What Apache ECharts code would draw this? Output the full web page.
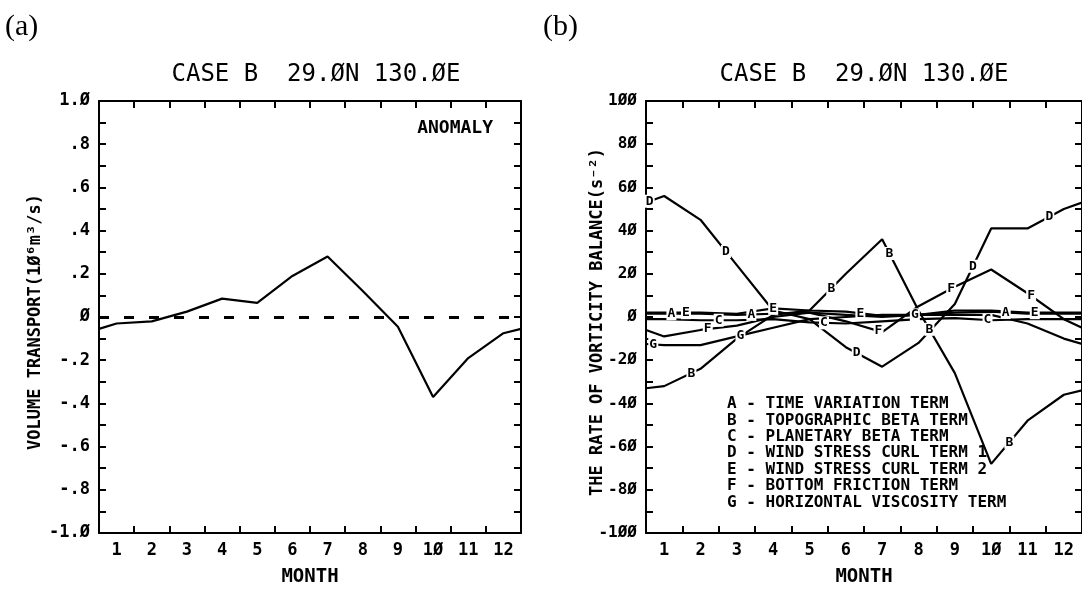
<!DOCTYPE html>
<html>
<head>
<meta charset="utf-8">
<script src="https://cdn.jsdelivr.net/npm/echarts@6/dist/echarts.min.js"></script>
<style>
  html, body { margin: 0; padding: 0; background: #fff; }
  #chart { width: 1082px; height: 592px; }
</style>
</head>
<body>
<div id="chart"></div>
<script>
// months on the axis, and the x of each data point (edges at 0.5 / 12.5)
var monthNames = ['1', '2', '3', '4', '5', '6', '7', '8', '9', '1Ø', '11', '12'];
var monthX = [0.5, 1, 2, 3, 4, 5, 6, 7, 8, 9, 10, 11, 12, 12.5];

// (a) volume transport anomaly, 10^6 m3/s
var transport = [-0.055, -0.03, -0.02, 0.025, 0.085, 0.065, 0.19, 0.28, 0.12, -0.045, -0.37, -0.19, -0.075, -0.055];
var leftTicks = ['-1.Ø', '-.8', '-.6', '-.4', '-.2', 'Ø', '.2', '.4', '.6', '.8', '1.Ø'];

// (b) vorticity balance terms
var termA = [1.5, 1.5, 1.5, 1, 1.5, 2, 1, 0, 1, 2, 2.5, 1.5, 1.5, 1.5];
var termB = [-33, -32, -24, -10, 1, 3, 20, 36, 3, -26, -68, -48, -36, -34];
var termC = [-1, -1, -1.5, -1.5, -1, -2.5, -3, -2, -1, -0.5, -1.5, -1, -1, -1];
var termD = [53, 56, 45, 24, 3, -1, -14, -23, -12, 6, 41, 41, 50, 53];
var termE = [2, 2, 2, 1.5, 4, 3, 2.5, 0.5, 1, 3, 3, 2, 2, 2];
var termF = [-6, -9, -6, -4, 0, 2, -2, -7, 5, 14, 22, 11, -1, -5];
var termG = [-12.5, -13, -13, -9, -5, -1, 0, 1, 1, 1, 1, -3, -10, -12.5];
var rightTicks = ['-1ØØ', '-8Ø', '-6Ø', '-4Ø', '-2Ø', 'Ø', '2Ø', '4Ø', '6Ø', '8Ø', '1ØØ'];
var termNames = [
  'A - TIME VARIATION TERM',
  'B - TOPOGRAPHIC BETA TERM',
  'C - PLANETARY BETA TERM',
  'D - WIND STRESS CURL TERM 1',
  'E - WIND STRESS CURL TERM 2',
  'F - BOTTOM FRICTION TERM',
  'G - HORIZONTAL VISCOSITY TERM'
];

var mono = 'DejaVu Sans Mono';
var chartDom = document.getElementById('chart');
var myChart = echarts.init(chartDom);

// value of a curve at month m (for placing the letter tags on the lines)
function at(vals, m) {
  for (var i = 0; i < monthX.length - 1; i++) {
    if (m >= monthX[i] && m <= monthX[i + 1]) {
      var t = (m - monthX[i]) / (monthX[i + 1] - monthX[i]);
      return vals[i] + t * (vals[i + 1] - vals[i]);
    }
  }
  return vals[vals.length - 1];
}

function pairs(vals) {
  return monthX.map(function (x, i) { return [x, vals[i]]; });
}

function termSeries(letter, vals, spots) {
  return {
    type: 'line',
    name: letter,
    xAxisIndex: 5,
    yAxisIndex: 2,
    data: pairs(vals),
    symbol: 'none',
    lineStyle: { color: '#000', width: 2.2 },
    markPoint: {
      symbol: 'rect',
      symbolSize: [10, 13],
      itemStyle: { color: '#fff' },
      label: {
        show: true,
        position: 'inside',
        formatter: letter,
        color: '#000',
        fontFamily: mono,
        fontWeight: 'bold',
        fontSize: 13
      },
      data: spots.map(function (m) { return { coord: [m, at(vals, m)] }; })
    }
  };
}

function catAxis(gridIndex, pos, labels) {
  return {
    type: 'category',
    gridIndex: gridIndex,
    position: pos,
    data: monthNames,
    boundaryGap: true,
    axisLine: { show: true, onZero: false, lineStyle: { color: '#000', width: 2 } },
    axisTick: { show: true, inside: true, length: 7, lineStyle: { color: '#000', width: 2 } },
    axisLabel: {
      show: labels,
      margin: 9,
      color: '#000',
      fontFamily: mono,
      fontWeight: 'bold',
      fontSize: 17
    },
    splitLine: { show: false },
    name: labels ? 'MONTH' : '',
    nameLocation: 'middle',
    nameGap: 35,
    nameTextStyle: { color: '#000', fontFamily: mono, fontWeight: 'bold', fontSize: 19 }
  };
}

function hiddenX(gridIndex) {
  return { type: 'value', gridIndex: gridIndex, min: 0.5, max: 12.5, show: false };
}

function valAxis(gridIndex, pos, lo, hi, step, ticks, labels, size) {
  return {
    type: 'value',
    gridIndex: gridIndex,
    position: pos,
    min: lo,
    max: hi,
    interval: step,
    axisLine: { show: true, onZero: false, lineStyle: { color: '#000', width: 2 } },
    axisTick: { show: true, inside: true, length: 7, lineStyle: { color: '#000', width: 2 } },
    minorTick: { show: true, splitNumber: 2, length: 7, lineStyle: { color: '#000', width: 2 } },
    axisLabel: {
      show: labels,
      margin: 9,
      color: '#000',
      fontFamily: mono,
      fontWeight: 'bold',
      fontSize: size,
      formatter: function (v) {
        return ticks[Math.round((v - lo) / step)];
      }
    },
    splitLine: { show: false }
  };
}

function plotText(x, y, text, opts) {
  var st = {
    text: text,
    fill: '#000',
    font: opts.font,
    align: opts.align || 'left',
    verticalAlign: 'middle'
  };
  return { type: 'text', x: x, y: y, rotation: opts.rotation || 0, style: st, z: 100 };
}

var graphics = [
  plotText(5, 27, '(a)', { font: '30px "Liberation Serif"' }),
  plotText(543, 27, '(b)', { font: '30px "Liberation Serif"' }),
  plotText(316, 75, 'CASE B  29.ØN 130.ØE', { font: '24px "DejaVu Sans Mono"', align: 'center' }),
  plotText(864, 75, 'CASE B  29.ØN 130.ØE', { font: '24px "DejaVu Sans Mono"', align: 'center' }),
  plotText(493, 128, 'ANOMALY', { font: 'bold 18px "DejaVu Sans Mono"', align: 'right' }),
  plotText(36, 322, 'VOLUME TRANSPORT(1Ø⁶m³/s)', { font: 'bold 17px "DejaVu Sans Mono"', align: 'center', rotation: Math.PI / 2 }),
  plotText(598, 322, 'THE RATE OF VORTICITY BALANCE(s⁻²)', { font: 'bold 17px "DejaVu Sans Mono"', align: 'center', rotation: Math.PI / 2 })
];
termNames.forEach(function (t, i) {
  graphics.push(plotText(727, 404 + i * 16.4, t, { font: 'bold 16px "DejaVu Sans Mono"' }));
});

var option = {
  animation: false,
  backgroundColor: '#fff',
  grid: [
    { left: 99, top: 101, width: 422, height: 439 },
    { left: 646, top: 101, width: 438, height: 439 }
  ],
  xAxis: [
    catAxis(0, 'bottom', true),
    catAxis(0, 'top', false),
    hiddenX(0),
    catAxis(1, 'bottom', true),
    catAxis(1, 'top', false),
    hiddenX(1)
  ],
  yAxis: [
    valAxis(0, 'left', -1, 1, 0.2, leftTicks, true, 17),
    valAxis(0, 'right', -1, 1, 0.2, leftTicks, false, 17),
    valAxis(1, 'left', -100, 100, 20, rightTicks, true, 16),
    valAxis(1, 'right', -100, 100, 20, rightTicks, false, 16)
  ],
  graphic: graphics,
  series: [
    {
      type: 'line',
      name: 'ANOMALY',
      xAxisIndex: 2,
      yAxisIndex: 0,
      data: pairs(transport),
      symbol: 'none',
      lineStyle: { color: '#000', width: 2.2 },
      markLine: {
        silent: true,
        symbol: 'none',
        label: { show: false },
        lineStyle: { color: '#000', width: 3, type: [10, 15] },
        data: [{ yAxis: 0 }]
      }
    },
    termSeries('A', termA, [1.2, 3.4, 10.4]),
    termSeries('B', termB, [1.75, 5.6, 7.2, 8.3, 10.5]),
    termSeries('C', termC, [2.5, 5.4, 9.9]),
    termSeries('D', termD, [0.6, 2.7, 6.3, 9.5, 11.6]),
    termSeries('E', termE, [1.6, 4.0, 6.4, 11.2]),
    termSeries('F', termF, [2.2, 6.9, 8.9, 11.1]),
    termSeries('G', termG, [0.7, 3.1, 7.9])
  ]
};

option && myChart.setOption(option);
</script>
</body>
</html>
